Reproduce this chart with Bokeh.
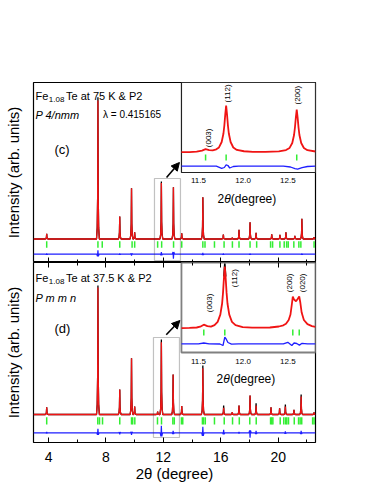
import math
from bokeh.plotting import figure
from bokeh.layouts import column
from bokeh.models import (Range1d, SingleIntervalTicker, LinearAxis, Label, Arrow,
                          NormalHead, BoxAnnotation, FixedTicker)
from bokeh.core.properties import value
from bokeh.embed import file_html
from bokeh.resources import INLINE

FONT = "Liberation Sans"
RED = "#f01414"
BLUE = "#1e1eff"
GREEN = "#33ee33"

# ---------------- data: main patterns ----------------
X_MIN, X_MAX = 2.95, 22.6
x_major_ticks = [4, 8, 12, 16, 20]
x_title = "2θ (degree)"

# panel (c)  Fe1.08Te at 75 K, P4/nmm  (intensity, arb. units)
c_pos = [3.87, 7.44, 8.96, 9.78, 10.00, 11.86, 12.70, 13.28, 14.75, 16.18,
         16.80, 17.27, 18.04, 18.46, 19.55, 20.12, 20.54, 21.16, 21.65, 22.50]
c_calc = [5.2, 138.5, 22.5, 50.8, 6.8, 56.0, 51.8, 5.8, 41.8, 4.5,
          1.2, 9.2, 16.8, 6.2, 4.8, 4.2, 6.8, 3.2, 20.2, 1.8]
c_obs = [5.2, 141.8, 22.5, 50.8, 6.8, 57.5, 51.8, 5.8, 41.8, 4.5,
         1.2, 9.2, 16.8, 6.2, 4.8, 4.2, 6.8, 3.2, 20.2, 1.8]
c_refl = [3.87, 7.44, 7.74, 8.96, 9.82, 10.00, 11.60, 11.88, 12.71, 13.28,
          14.75, 14.90, 15.56, 16.23, 16.81, 17.27, 18.04, 18.50, 19.47, 19.61,
          20.12, 20.42, 20.59, 20.70, 21.09, 21.44, 21.58, 22.50]
c_diff_pos = [3.87, 7.44, 8.96, 9.78, 11.86, 12.70, 14.75, 16.18, 18.04, 21.65]
c_diff_amp = [0.8, 4.0, 0.8, -1.5, 2.0, -4.5, 1.2, 0.6, 0.8, 0.8]

# panel (d)  Fe1.08Te at 37.5 K, Pmmn
d_pos = [3.87, 7.44, 8.96, 9.78, 10.00, 11.60, 11.86, 12.68, 13.28, 14.75,
         16.20, 16.80, 17.27, 18.04, 18.46, 19.50, 20.10, 20.50, 21.10, 21.60, 22.50]
d_calc = [7.3, 127.0, 25.0, 56.3, 8.0, 3.0, 72.3, 40.0, 8.5, 46.3,
          6.7, 2.3, 9.0, 19.0, 9.0, 7.3, 6.3, 8.0, 4.7, 18.0, 2.0]
d_obs = [7.3, 129.0, 25.0, 56.3, 8.0, 3.0, 75.0, 40.0, 8.5, 49.0,
         9.0, 2.3, 9.0, 19.0, 11.3, 7.3, 6.3, 10.0, 4.7, 20.0, 2.0]
d_refl = [3.87, 7.43, 7.55, 7.76, 8.96, 9.78, 9.86, 10.01, 11.59, 11.87,
          12.66, 12.76, 13.26, 13.35, 14.72, 14.80, 14.92, 15.56, 16.24, 16.82,
          17.29, 18.02, 18.47, 19.47, 19.55, 19.63, 20.14, 20.39, 20.52, 20.60,
          20.72, 21.12, 21.42, 21.53, 21.64, 22.40, 22.50]
d_diff_pos = [3.87, 7.44, 8.96, 9.78, 11.86, 12.68, 14.75, 16.20, 17.27, 18.04, 18.46, 20.50, 21.60]
d_diff_amp = [0.8, 4.0, -1.5, -2.0, 7.0, 2.0, 6.0, 3.0, 1.0, -5.0, 2.0, 1.5, 2.0]

# ---------------- data: insets ----------------
INSET_X = (11.31, 12.81)
inset_ticks = [11.5, 12.0, 12.5]

ci_x = [11.31, 11.40, 11.48, 11.54, 11.58, 11.62, 11.66, 11.70, 11.73, 11.76,
        11.78, 11.79, 11.80, 11.81, 11.82, 11.83, 11.84, 11.86, 11.89, 11.93,
        12.01, 12.11, 12.25, 12.40, 12.48, 12.52, 12.55, 12.57, 12.58, 12.59,
        12.60, 12.61, 12.62, 12.63, 12.65, 12.68, 12.72, 12.81]
ci_calc = [0.3, 0.45, 0.8, 1.8, 3.3, 2.3, 2.1, 3.2, 5.1, 10.5,
           19.0, 27.0, 38.0, 47.0, 38.0, 27.0, 19.0, 10.5, 5.0, 2.6,
           1.25, 0.7, 0.6, 1.05, 2.4, 4.6, 9.5, 17.5, 25.0, 35.0,
           43.0, 35.0, 25.0, 17.5, 9.5, 4.5, 2.3, 1.0]
ci_dx = [11.31, 11.70, 11.76, 11.79, 11.81, 11.83, 11.85, 11.89, 11.95, 12.45,
         12.53, 12.58, 12.61, 12.66, 12.72, 12.81]
ci_diff = [-13.7, -13.7, -15.8, -15.0, -12.3, -13.0, -15.5, -14.0, -13.7, -13.7,
           -14.5, -16.2, -16.7, -15.2, -14.0, -13.7]
ci_refl = [11.58, 11.81, 12.60]
ci_hkl = ["(003)", "(112)", "(200)"]
ci_hkl_x = [11.616, 11.822, 12.612]
ci_hkl_y = [5.3, 50.0, 48.0]

bi_x = [11.31, 11.40, 11.48, 11.52, 11.56, 11.60, 11.64, 11.68, 11.715, 11.745,
        11.765, 11.775, 11.785, 11.795, 11.805, 11.815, 11.825, 11.845, 11.875, 11.915,
        11.995, 12.10, 12.20, 12.30, 12.40, 12.45, 12.48, 12.51, 12.53, 12.545,
        12.556, 12.57, 12.592, 12.61, 12.628, 12.64, 12.655, 12.68, 12.72, 12.77, 12.81]
bi_calc = [0.3, 0.6, 1.0, 1.8, 3.8, 2.3, 1.8, 3.3, 6.6, 13.9,
           25.0, 35.6, 50.0, 62.0, 50.0, 35.6, 25.0, 13.9, 6.6, 3.3,
           1.4, 0.8, 0.8, 1.0, 2.0, 3.2, 4.8, 8.5, 14.0, 24.0,
           32.0, 29.0, 27.3, 29.5, 32.0, 26.0, 16.0, 8.5, 4.3, 2.4, 1.6]
bi_obs_x = [11.785, 11.795, 11.805]
bi_obs_y = [52.0, 65.0, 52.0]
bi_dx = [11.31, 11.50, 11.56, 11.62, 11.74, 11.775, 11.795, 11.81, 11.83, 11.87,
         11.95, 12.45, 12.50, 12.545, 12.57, 12.60, 12.63, 12.66, 12.72, 12.81]
bi_diff = [-15.3, -15.3, -14.5, -15.3, -15.5, -17.0, -8.7, -10.5, -14.0, -15.6,
           -15.3, -15.3, -13.8, -17.0, -14.5, -15.0, -16.6, -14.8, -15.3, -15.3]
bi_refl = [11.56, 11.795, 12.556, 12.628]
bi_hkl = ["(003)", "(112)", "(200)", "(020)"]
bi_hkl_x = [11.627, 11.903, 12.522, 12.665]
bi_hkl_y = [16.3, 41.3, 36.3, 36.3]

# ---------------- helpers (drawing tables from the peak lists) ----------------
PROFILE_DX = [-0.10, -0.05, -0.02, 0.0, 0.02, 0.05, 0.10]
PROFILE_FR = [0.0, 0.08, 0.30, 1.0, 0.30, 0.08, 0.0]
DIFF_DX = [-0.08, -0.03, 0.0, 0.03, 0.08]
DIFF_FR = [0.0, -0.5, 1.0, -0.5, 0.0]


def profile(pos, hts, dxs, frs, base=0.0):
    xs, ys = [X_MIN], [base]
    for p0, h in sorted(zip(pos, hts)):
        for d, f in zip(dxs, frs):
            xs.append(p0 + d)
            ys.append(base + f * h)
    xs.append(X_MAX)
    ys.append(base)
    return xs, ys


FRAME_L = 33.0
PPX = 282.0 / (X_MAX - X_MIN)


def tick_only(ax, loc):
    """Inward ticks, labels not drawn, axis pinned to the frame edge."""
    ax.ticker = SingleIntervalTicker(interval=4, num_minor_ticks=2)
    ax.fixed_location = loc
    ax.axis_line_color = None
    ax.major_tick_in = 5
    ax.major_tick_out = 0
    ax.minor_tick_in = 3
    ax.minor_tick_out = 0
    ax.major_tick_line_color = "black"
    ax.minor_tick_line_color = "black"
    ax.major_label_text_font_size = "1px"
    ax.major_label_text_color = None
    ax.major_label_standoff = 0


def make_fig(y0, y1, height, top, bottom):
    p = figure(width=330, height=height, x_range=Range1d(X_MIN, X_MAX),
               y_range=Range1d(y0, y1), output_backend="svg", toolbar_location=None,
               min_border_left=33, min_border_right=15, min_border_top=top,
               min_border_bottom=bottom, background_fill_color="white",
               border_fill_color="white")
    p.xgrid.visible = False
    p.ygrid.visible = False
    p.outline_line_color = "black"
    p.outline_line_width = 1.2
    ya = p.left[0]
    ya.ticker = FixedTicker(ticks=[])
    ya.axis_line_color = None
    ya.major_tick_out = 0
    ya.minor_tick_out = 0
    ya.major_label_text_font_size = "1px"
    ya.major_label_text_color = None
    ya.major_label_standoff = 0
    ya.axis_label = "Intensity (arb. units)"
    ya.axis_label_text_font = FONT
    ya.axis_label_text_font_size = "15px"
    ya.axis_label_text_font_style = "normal"
    ya.axis_label_text_color = "black"
    ya.axis_label_standoff = 12
    return p


def tlabel(p, px, py, ybase, text, size, style="normal"):
    p.add_layout(Label(x=X_MIN + (px - FRAME_L) / PPX, y=ybase - py, text=text,
                       text_font=FONT, text_font_size=f"{size}px",
                       text_font_style=style, text_baseline="alphabetic",
                       text_align="left", text_color="black"))


def draw_main(p, pos, calc, obs, refl, dpos, damp, g0, g1, dbase):
    ox, oy = profile(pos, obs, PROFILE_DX, PROFILE_FR)
    cx, cy = profile(pos, calc, PROFILE_DX, PROFILE_FR)
    dx, dy = profile(dpos, damp, DIFF_DX, DIFF_FR, base=dbase)
    p.line(ox, oy, line_color="black", line_width=1.3)
    p.line(cx, cy, line_color=RED, line_width=1.3)
    p.segment(x0=refl, x1=refl, y0=[g0] * len(refl), y1=[g1] * len(refl),
              line_color=GREEN, line_width=1.5)
    p.line(dx, dy, line_color=BLUE, line_width=1.2)


def draw_inset(xy, ysrc, frame_color, frame_w, xs, calc, dxs, diff, refl, g0, g1,
               hkl, hx, hy, tick_y, lab_x, lab_y, obs=None):
    xy.quad(left=[INSET_X[0]], right=[INSET_X[1]], bottom=[ysrc[0]], top=[ysrc[1]],
            fill_color="white", line_color=frame_color, line_width=frame_w)
    if obs is not None:
        xy.line(obs[0], obs[1], line_color="black", line_width=1.6)
    xy.line(xs, calc, line_color=RED, line_width=1.8)
    xy.segment(x0=refl, x1=refl, y0=[g0] * len(refl), y1=[g1] * len(refl),
               line_color=GREEN, line_width=1.5)
    xy.line(dxs, diff, line_color=BLUE, line_width=1.3)
    xy.text(x=hx, y=hy, text=hkl, angle=math.pi / 2, text_align="left",
            text_baseline="middle", text_font=value(FONT), text_font_size="8px",
            text_color="black")
    xy.text(x=inset_ticks, y=[tick_y] * len(inset_ticks),
            text=[f"{t:.1f}" for t in inset_ticks], text_align="center",
            text_baseline="alphabetic", text_font=value(FONT), text_font_size="8px",
            text_color="black")
    xy.text(x=[lab_x], y=[lab_y], text=["2"], text_align="left", text_baseline="alphabetic",
            text_font=value(FONT), text_font_size="12px", text_color="black")
    xy.text(x=[lab_x], y=[lab_y], text=["θ"], x_offset=6.7, text_align="left",
            text_baseline="alphabetic", text_font=value(FONT), text_font_size="12px",
            text_font_style="italic", text_color="black")
    xy.text(x=[lab_x], y=[lab_y], text=[" (degree)"], x_offset=13.4, text_align="left",
            text_baseline="alphabetic", text_font=value(FONT), text_font_size="12px",
            text_color="black")


# ---------------- panel (c) ----------------
YB_C = 238.5
p1 = make_fig(-23.5, 156.5, 262, 82, 0)
tick_only(p1.below[0], -23.5)
draw_main(p1, c_pos, c_calc, c_obs, c_refl, c_diff_pos, c_diff_amp, -2.2, -8.8, -15.2)

xy1 = p1.subplot(x_source=Range1d(*INSET_X), y_source=Range1d(-20, 70),
                 x_target=Range1d(13.26, X_MAX), y_target=Range1d(66.5, 156.5))
draw_inset(xy1, (-20, 70), "#222222", 1.2, ci_x, ci_calc, ci_dx, ci_diff, ci_refl,
           -2.0, -8.0, ci_hkl, ci_hkl_x, ci_hkl_y, -28.0, 11.713, -46.0)

p1.add_layout(BoxAnnotation(left=11.38, right=13.19, bottom=-21.5, top=60.5,
                            fill_alpha=0, line_color="#333333", line_width=1.2))
p1.add_layout(Arrow(end=NormalHead(size=8, fill_color="black", line_color="black"),
                    x_start=12.22, y_start=61.5, x_end=13.12, y_end=76.5,
                    line_color="black", line_width=1.6))

tlabel(p1, 35, 95, YB_C, "Fe", 11)
tlabel(p1, 48.3, 98.5, YB_C, "1.08", 8)
tlabel(p1, 65.5, 95, YB_C, "Te at 75 K & P2", 11)
tlabel(p1, 35, 114, YB_C, "P 4/nmm", 11, "italic")
tlabel(p1, 102.5, 114, YB_C, "λ = 0.415165", 10)
tlabel(p1, 54, 149, YB_C, "(c)", 13)

# ---------------- panel (d) ----------------
YB_D = 414.0
p2 = make_fig(-28.0, 152.0, 225, 0, 45)
bx = p2.below[0]
bx.ticker = SingleIntervalTicker(interval=4, num_minor_ticks=2)
bx.axis_line_color = None
bx.major_tick_in = 5
bx.major_tick_out = 0
bx.minor_tick_in = 3
bx.minor_tick_out = 0
bx.major_tick_line_color = "black"
bx.minor_tick_line_color = "black"
bx.major_label_text_font = FONT
bx.major_label_text_font_size = "14px"
bx.major_label_text_color = "black"
bx.major_label_standoff = 9
bx.major_label_overrides = {t: str(t) for t in x_major_ticks}
bx.axis_label = x_title
bx.axis_label_text_font = FONT
bx.axis_label_text_font_size = "15px"
bx.axis_label_text_font_style = "normal"
bx.axis_label_text_color = "black"
bx.axis_label_standoff = 0

top_ax = LinearAxis()
tick_only(top_ax, 152.0)
p2.add_layout(top_ax, "above")

draw_main(p2, d_pos, d_calc, d_obs, d_refl, d_diff_pos, d_diff_amp, -2.7, -10.0, -18.3)

xy2 = p2.subplot(x_source=Range1d(*INSET_X), y_source=Range1d(-24, 66),
                 x_target=Range1d(13.26, X_MAX), y_target=Range1d(62.0, 152.0))
draw_inset(xy2, (-24, 66), "#808080", 1.8, bi_x, bi_calc, bi_dx, bi_diff, bi_refl,
           -1.0, -7.0, bi_hkl, bi_hkl_x, bi_hkl_y, -33.0, 11.702, -50.0,
           obs=(bi_obs_x, bi_obs_y))

p2.add_layout(BoxAnnotation(left=11.31, right=13.12, bottom=-23.0, top=77.0,
                            fill_alpha=0, line_color="#333333", line_width=1.2))
p2.add_layout(Arrow(end=NormalHead(size=8, fill_color="black", line_color="black"),
                    x_start=12.2, y_start=79.7, x_end=13.15, y_end=94.0,
                    line_color="black", line_width=1.6))

tlabel(p2, 35, 277, YB_D, "Fe", 11)
tlabel(p2, 48.3, 280.5, YB_D, "1.08", 8)
tlabel(p2, 65.5, 277, YB_D, "Te at 37.5 K & P2", 11)
tlabel(p2, 35, 297, YB_D, "P m m n", 11, "italic")
tlabel(p2, 54, 327.5, YB_D, "(d)", 13)

layout = column(p1, p2)
open("out.html", "w").write(file_html(layout, INLINE))
